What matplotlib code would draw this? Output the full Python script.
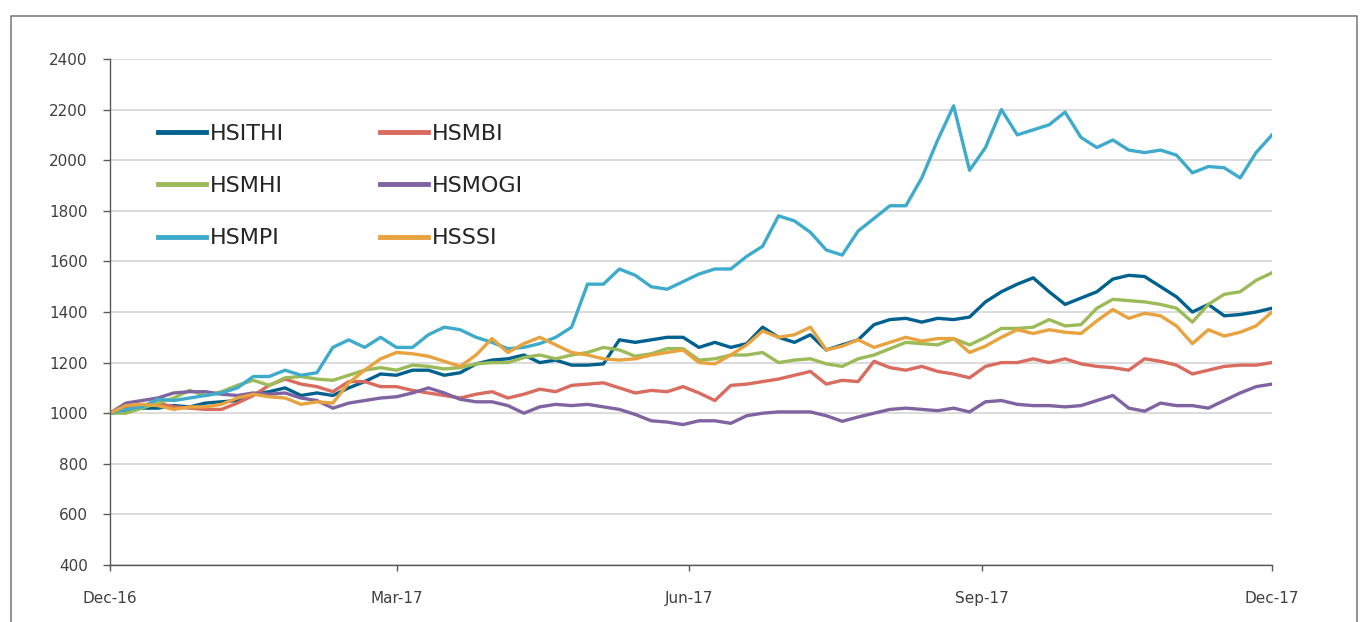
import numpy as np
import pandas as pd
import matplotlib
matplotlib.use('Agg')
import matplotlib.pyplot as plt
import matplotlib.dates as mdates
from matplotlib.lines import Line2D

# samples every 5 days
dates = pd.date_range('2016-12-01', periods=74, freq='5D')

hsithi = [1000, 1010, 1020, 1020, 1030, 1025, 1040, 1045, 1050, 1075, 1085, 1100, 1070, 1080, 1070,
          1100, 1125, 1155, 1150, 1170, 1170, 1150, 1160, 1195, 1210, 1215, 1230, 1200, 1210, 1190,
          1190, 1195, 1290, 1280, 1290, 1300, 1300, 1260, 1280, 1260, 1275, 1340, 1300, 1280, 1310,
          1250, 1270, 1290, 1350, 1370, 1375, 1360, 1375, 1370, 1380, 1440, 1480, 1510, 1535, 1480,
          1430, 1455, 1480, 1530, 1545, 1540, 1500, 1460, 1400, 1430, 1385, 1390, 1400, 1415]
hsmbi = [1000, 1020, 1030, 1040, 1025, 1020, 1015, 1015, 1040, 1070, 1110, 1135, 1115, 1105, 1085,
         1125, 1125, 1105, 1105, 1090, 1080, 1070, 1060, 1075, 1085, 1060, 1075, 1095, 1085, 1110,
         1115, 1120, 1100, 1080, 1090, 1085, 1105, 1080, 1050, 1110, 1115, 1125, 1135, 1150, 1165,
         1115, 1130, 1125, 1205, 1180, 1170, 1185, 1165, 1155, 1140, 1185, 1200, 1200, 1215, 1200,
         1215, 1195, 1185, 1180, 1170, 1215, 1205, 1190, 1155, 1170, 1185, 1190, 1190, 1200]
hsmhi = [1000, 1000, 1020, 1040, 1060, 1090, 1070, 1085, 1110, 1130, 1110, 1140, 1145, 1135, 1130,
         1150, 1170, 1180, 1170, 1190, 1185, 1175, 1180, 1195, 1200, 1200, 1220, 1230, 1215, 1230,
         1240, 1260, 1250, 1225, 1235, 1255, 1255, 1210, 1215, 1230, 1230, 1240, 1200, 1210, 1215,
         1195, 1185, 1215, 1230, 1255, 1280, 1275, 1270, 1295, 1270, 1300, 1335, 1335, 1340, 1370,
         1345, 1350, 1415, 1450, 1445, 1440, 1430, 1415, 1360, 1430, 1470, 1480, 1525, 1555]
hsmogi = [1000, 1040, 1050, 1060, 1080, 1085, 1085, 1075, 1070, 1080, 1075, 1080, 1060, 1050, 1020,
          1040, 1050, 1060, 1065, 1080, 1100, 1080, 1055, 1045, 1045, 1030, 1000, 1025, 1035, 1030,
          1035, 1025, 1015, 995, 970, 965, 955, 970, 970, 960, 990, 1000, 1005, 1005, 1005,
          990, 968, 985, 1000, 1015, 1020, 1015, 1010, 1020, 1005, 1045, 1050, 1035, 1030, 1030,
          1025, 1030, 1050, 1070, 1020, 1008, 1040, 1030, 1030, 1020, 1050, 1080, 1105, 1115]
hsmpi = [1000, 1015, 1025, 1055, 1050, 1060, 1070, 1080, 1100, 1145, 1145, 1170, 1150, 1160, 1260,
         1290, 1260, 1300, 1260, 1260, 1310, 1340, 1330, 1300, 1280, 1255, 1260, 1275, 1300, 1340,
         1510, 1510, 1570, 1545, 1500, 1490, 1520, 1550, 1570, 1570, 1620, 1660, 1780, 1760, 1715,
         1645, 1625, 1720, 1770, 1820, 1820, 1930, 2080, 2215, 1960, 2050, 2200, 2100, 2120, 2140,
         2190, 2090, 2050, 2080, 2040, 2030, 2040, 2020, 1950, 1975, 1970, 1930, 2030, 2100]
hsssi = [1000, 1030, 1035, 1030, 1015, 1025, 1025, 1035, 1060, 1075, 1065, 1060, 1035, 1045, 1040,
         1120, 1170, 1215, 1240, 1235, 1225, 1205, 1185, 1230, 1295, 1240, 1275, 1300, 1270, 1240,
         1230, 1215, 1210, 1215, 1230, 1240, 1250, 1200, 1195, 1230, 1270, 1325, 1300, 1310, 1340,
         1250, 1265, 1290, 1260, 1280, 1300, 1285, 1295, 1295, 1240, 1265, 1300, 1330, 1315, 1330,
         1320, 1315, 1365, 1410, 1375, 1395, 1385, 1345, 1275, 1330, 1305, 1320, 1345, 1400]

names = ['HSITHI', 'HSMBI', 'HSMHI', 'HSMOGI', 'HSMPI', 'HSSSI']
series = [hsithi, hsmbi, hsmhi, hsmogi, hsmpi, hsssi]
colors = ['#00618f', '#d96b5f', '#9bbb59', '#8064a2', '#3fabcc', '#e8a33e']

fig = plt.figure(figsize=(13.6, 6.22), dpi=100)
ax = fig.add_axes([110/1360, 1-565/622, (1272-110)/1360, (565-59)/622])

# outer frame
fig.add_artist(Line2D([11/1360, 11/1360, 1357/1360, 1357/1360], [0, 1-16/622, 1-16/622, 0],
                      transform=fig.transFigure, color='#7f7f7f', lw=1.2))

for name, vals, c in zip(names, series, colors):
    ax.plot(dates, vals, color=c, lw=2.4, label=name, solid_joinstyle='round')

ax.set_ylim(400, 2400)
ax.set_yticks(range(400, 2401, 200))
ax.set_xlim(pd.Timestamp('2016-12-01'), pd.Timestamp('2017-12-01'))
ax.set_xticks(pd.to_datetime(['2016-12-01', '2017-03-01', '2017-06-01', '2017-09-01', '2017-12-01']))
ax.xaxis.set_major_formatter(mdates.DateFormatter('%b-%y'))

ax.grid(axis='y', color='#d9d9d9', lw=1.3)
ax.set_axisbelow(True)
for s in ['top', 'right']:
    ax.spines[s].set_visible(False)
for s in ['left', 'bottom']:
    ax.spines[s].set_color('#595959')
    ax.spines[s].set_linewidth(1.0)
ax.tick_params(axis='both', colors='#595959', labelcolor='#404040', labelsize=11, length=5, width=1)
ax.tick_params(axis='y', pad=11)
ax.tick_params(axis='x', pad=15, length=4)

h, l = ax.get_legend_handles_labels()
order = [0, 2, 4, 1, 3, 5]
leg = ax.legend([h[i] for i in order], [l[i] for i in order], ncol=2, loc='upper left',
                bbox_to_anchor=(28/1162, 1-45/506), frameon=False, fontsize=16,
                handlelength=2.15, handletextpad=0.2, columnspacing=4.3, labelspacing=1.45)
for line in leg.get_lines():
    line.set_linewidth(3.5)
for t in leg.get_texts():
    t.set_color('#262626')

fig.savefig('out.png', dpi=100)
